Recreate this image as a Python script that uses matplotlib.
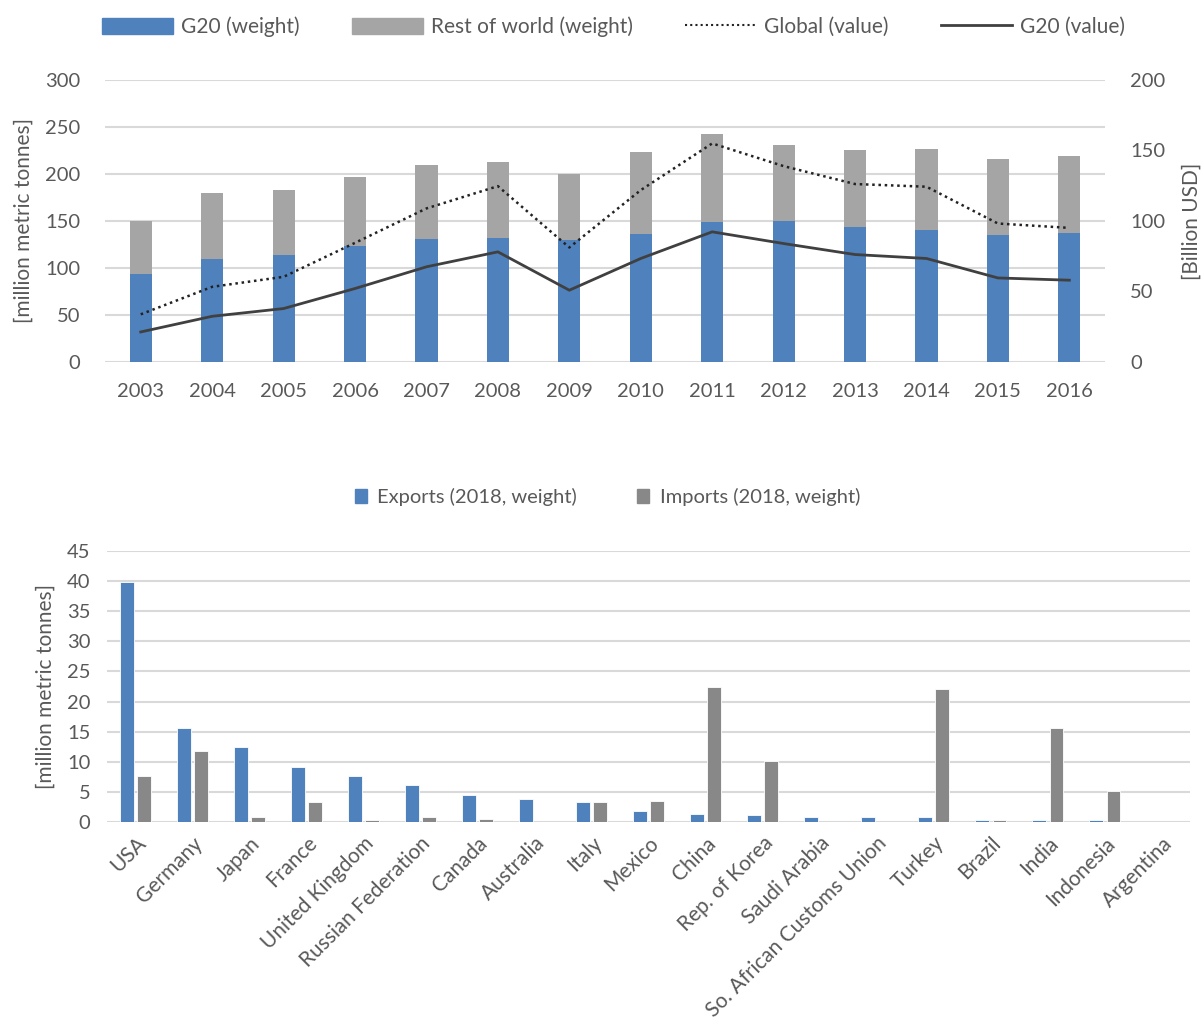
import numpy as np
import matplotlib
matplotlib.use("Agg")
import matplotlib.pyplot as plt
from matplotlib.lines import Line2D
from matplotlib.patches import Patch

plt.rcParams['font.family'] = ['Lato', 'DejaVu Sans']

# --- datos: comercio mundial de chatarra ---
anios = ["2003", "2004", "2005", "2006", "2007", "2008", "2009",
         "2010", "2011", "2012", "2013", "2014", "2015", "2016"]
g20_peso = [93.7, 110, 114.3, 123.9, 130.6, 132, 129.6,
            136.3, 148.4, 149.8, 143.1, 140.2, 134.9, 137.7]
total_peso = [149.5, 179.6, 182.5, 196.3, 209.8, 212.3, 200.2,
              223.6, 242.5, 230.4, 225.1, 226.1, 215.5, 219.4]
resto_peso = [t - g for t, g in zip(total_peso, g20_peso)]
global_valor = [33.8, 53.3, 60.4, 84.5, 108.9, 124.7, 81.2,
                121.9, 155, 138.9, 126.2, 124.3, 98.2, 95.1]
g20_valor = [21.3, 32.4, 37.9, 52.1, 67.5, 78.1, 50.9,
             73.4, 92.3, 84, 76.2, 73.4, 59.6, 58]

paises = ["USA", "Germany", "Japan", "France", "United Kingdom",
          "Russian Federation", "Canada", "Australia", "Italy", "Mexico",
          "China", "Rep. of Korea", "Saudi Arabia", "So. African Customs Union",
          "Turkey", "Brazil", "India", "Indonesia", "Argentina"]
exportaciones = [39.9, 15.6, 12.4, 9.2, 7.7, 6.1, 4.4, 3.75, 3.3, 1.8,
                 1.4, 1.2, 0.8, 0.8, 0.8, 0.35, 0.35, 0.3, 0]
importaciones = [7.7, 11.8, 0.8, 3.3, 0.3, 0.8, 0.55, 0, 3.3, 3.5,
                 22.4, 10.1, 0, 0, 22.0, 0.35, 15.6, 5.2, 0]

AZUL = "#4F81BD"
GRIS = "#A5A5A5"
GRIS_OSC = "#888888"
LINEA = "#404040"
TEXTO = "#595959"
REJILLA = "#D9D9D9"
FS = 14.5


def estilo(ax):
    for s in ax.spines.values():
        s.set_visible(False)
    ax.tick_params(length=0, colors=TEXTO, labelsize=FS)
    ax.grid(axis="y", color=REJILLA, linewidth=1.5)
    ax.set_axisbelow(True)


fig = plt.figure(figsize=(12.03, 10.36), dpi=100)

# -------------------------
# Gráfico superior
# -------------------------
ax = fig.add_axes([0.0873, 0.6506, 0.8313, 0.2722])
estilo(ax)
x = np.arange(len(anios))
ax.bar(x, g20_peso, width=0.31, color=AZUL)
ax.bar(x, resto_peso, width=0.31, bottom=g20_peso, color=GRIS)
ax.set_xlim(-0.5, len(anios) - 0.5)
ax.set_ylim(0, 300)
ax.set_yticks(range(0, 301, 50))
ax.set_xticks(x)
ax.set_xticklabels(anios)
ax.tick_params(axis="x", pad=15)
ax.tick_params(axis="y", pad=18)
ax.set_ylabel("[million metric tonnes]", color=TEXTO, fontsize=15, labelpad=8)

ax2 = ax.twinx()
for s in ax2.spines.values():
    s.set_visible(False)
ax2.plot(x, global_valor, color="#222222", linestyle=(0, (1, 1.5)), linewidth=1.8)
ax2.plot(x, g20_valor, color=LINEA, linewidth=2)
ax2.set_ylim(0, 200)
ax2.set_yticks(range(0, 201, 50))
ax2.tick_params(length=0, colors=TEXTO, labelsize=FS, pad=18)
ax2.set_ylabel("[Billion USD]", color=TEXTO, fontsize=15, labelpad=12)

handles = [Patch(color=AZUL), Patch(color=GRIS),
           Line2D([], [], color="#222222", linestyle=(0, (1, 1.5)), linewidth=1.5),
           Line2D([], [], color=LINEA, linewidth=2)]
fig.legend(handles, ["G20 (weight)", "Rest of world (weight)",
                     "Global (value)", "G20 (value)"],
           loc="center", bbox_to_anchor=(0.51, 0.974), ncol=4, frameon=False,
           fontsize=15, labelcolor=TEXTO, handlelength=3.4, handleheight=0.85,
           columnspacing=2.5, handletextpad=0.4)

# -------------------------
# Gráfico inferior
# -------------------------
bx = fig.add_axes([0.0889, 0.2066, 0.9006, 0.2616])
estilo(bx)
xp = np.arange(len(paises))
bx.bar(xp - 0.15, exportaciones, width=0.24, color=AZUL, edgecolor="white", linewidth=0.6)
bx.bar(xp + 0.15, importaciones, width=0.24, color=GRIS_OSC, edgecolor="white", linewidth=0.6)
bx.set_xlim(-0.5, len(paises) - 0.5)
bx.set_ylim(0, 45)
bx.set_yticks(range(0, 46, 5))
bx.set_xticks(xp)
bx.set_xticklabels(paises, rotation=45, ha="right", rotation_mode="anchor", fontsize=15)
bx.tick_params(axis="x", pad=8)
bx.tick_params(axis="y", pad=12)
bx.set_ylabel("[million metric tonnes]", color=TEXTO, fontsize=15, labelpad=8)

handles_b = [Patch(color=AZUL), Patch(color=GRIS_OSC)]
fig.legend(handles_b, ["Exports (2018, weight)", "Imports (2018, weight)"],
           loc="center", bbox_to_anchor=(0.505, 0.52), ncol=2, frameon=False,
           fontsize=FS, labelcolor=TEXTO, handlelength=0.6, handleheight=0.7,
           columnspacing=3.0, handletextpad=0.5)

fig.savefig("out.png", dpi=100)
